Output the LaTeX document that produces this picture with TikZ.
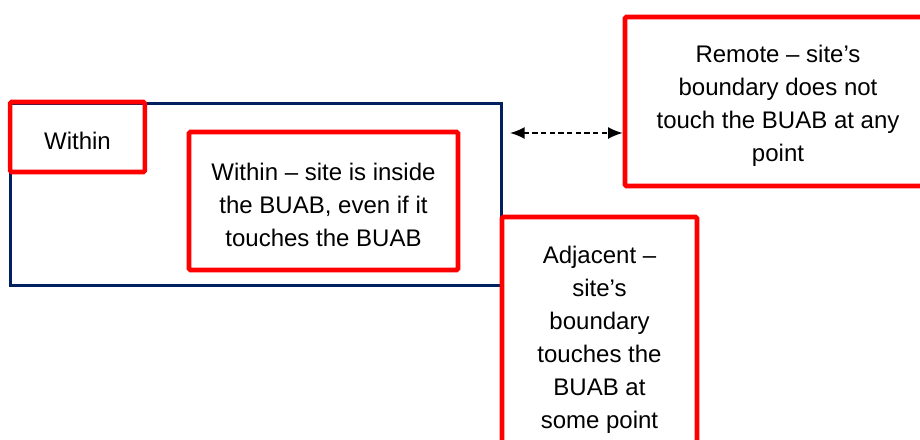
\documentclass[tikz,border=0pt]{standalone}
\usepackage{fontspec}
\setmainfont{Liberation Sans}
\usepackage{tikz}
\usetikzlibrary{arrows.meta}
\definecolor{buabnavy}{RGB}{0,32,96}
\definecolor{siteRed}{RGB}{255,0,0}
\newcommand{\topgap}{\rule{0pt}{19pt}}

\begin{document}
\begin{tikzpicture}[x=0.75pt,y=-0.75pt,
	sitebox/.style={draw=siteRed,line width=3.4pt,rounded corners=1pt,inner sep=0pt,align=center,
		font=\fontsize{18}{24.75}\selectfont},
	buabbox/.style={draw=buabnavy,line width=2.4pt,inner sep=0pt}]
	\useasboundingbox (0,0) rectangle (920,439);
	\clip (0,0) rectangle (920,439);
	
	%built-up area boundary
	\node[buabbox,minimum width=368pt,minimum height=137pt] (buab) at (256,194.5) {};
	
	%site boxes
	\node[sitebox,minimum width=101pt,minimum height=52.5pt] (within) at (77.5,137) {\topgap Within};
	\node[sitebox,minimum width=201.75pt,minimum height=103.5pt] (inside) at (323.5,201)
		{\topgap Within -- site is inside\\the BUAB, even if it\\touches the BUAB};
	\node[sitebox,minimum width=229.5pt,minimum height=126.75pt] (remote) at (778,101.5)
		{\topgap Remote -- site's\\boundary does not\\touch the BUAB at any\\point};
	\node[sitebox,minimum width=146.25pt,minimum height=177.75pt] (adjacent) at (599.5,335.5)
		{\topgap Adjacent --\\site's\\boundary\\touches the\\BUAB at\\some point};
	
	%distance arrow
	\coordinate (gapL) at (510,133);
	\draw[{Latex[length=11pt,width=9pt]}-{Latex[length=11pt,width=9pt]},line width=1.3pt,
		dash pattern=on 4pt off 2.5pt] (gapL) -- (gapL -| remote.west);
\end{tikzpicture}
\end{document}
